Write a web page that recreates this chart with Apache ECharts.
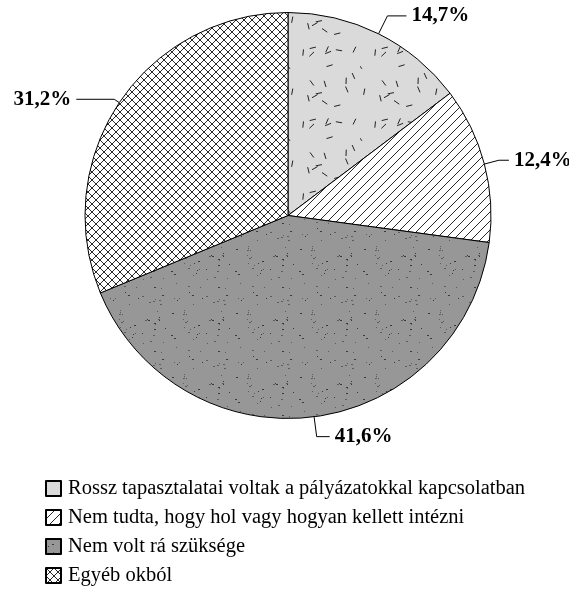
<!DOCTYPE html>
<html>
<head>
<meta charset="utf-8">
<script src="https://cdn.jsdelivr.net/npm/echarts@6/dist/echarts.min.js"></script>
<style>
  html, body { margin: 0; padding: 0; background: #fff; }
  #chart { width: 569px; height: 593px; }
</style>
</head>
<body>
<div id="chart"></div>
<script>
const categories = [
  'Rossz tapasztalatai voltak a pályázatokkal kapcsolatban',
  'Nem tudta, hogy hol vagy hogyan kellett intézni',
  'Nem volt rá szüksége',
  'Egyéb okból'
];
const values = [14.7, 12.4, 41.6, 31.2];
// leader line segments per slice: [radial, horizontal]
const leaderLens = [[20, 19], [15, 10], [20, 13], [6, 38]];

// small seeded generator, only for texture speckle
let seed = 7;
function rnd() {
  seed = (seed * 16807) % 2147483647;
  return (seed - 1) / 2147483646;
}

function tile(w, h, draw) {
  const c = document.createElement('canvas');
  c.width = w; c.height = h;
  draw(c.getContext('2d'), w, h);
  return { image: c, repeat: 'repeat' };
}

// light grey with scattered short dashes
const dashFill = tile(72, 72, (g, w, h) => {
  g.fillStyle = '#dadada';
  g.fillRect(0, 0, w, h);
  g.strokeStyle = '#222';
  g.lineWidth = 1;
  for (let i = 0; i < 20; i++) {
    const x = rnd() * w, y = rnd() * h;
    const a = rnd() * Math.PI;
    const l = 3.2;
    g.beginPath();
    g.moveTo(x - Math.cos(a) * l, y - Math.sin(a) * l);
    g.lineTo(x + Math.cos(a) * l, y + Math.sin(a) * l);
    g.stroke();
  }
});

// white with "/" hatching
const hatchFill = tile(9, 9, (g, w, h) => {
  g.fillStyle = '#fff';
  g.fillRect(0, 0, w, h);
  g.strokeStyle = '#111';
  g.lineWidth = 0.9;
  g.beginPath();
  g.moveTo(-1, h + 1); g.lineTo(w + 1, -1);
  g.moveTo(-1, 1); g.lineTo(1, -1);
  g.moveTo(w - 1, h + 1); g.lineTo(w + 1, h - 1);
  g.stroke();
});

// mid grey with small dark dots
const dotFill = tile(64, 64, (g, w, h) => {
  g.fillStyle = '#979797';
  g.fillRect(0, 0, w, h);
  for (let i = 0; i < 55; i++) {
    g.fillStyle = rnd() < 0.5 ? '#3a3a3a' : '#5c5c5c';
    g.fillRect(Math.floor(rnd() * w), Math.floor(rnd() * h), rnd() < 0.5 ? 2 : 1, 1);
  }
});

// white with cross hatching
const crossFill = tile(8, 8, (g, w, h) => {
  g.fillStyle = '#fff';
  g.fillRect(0, 0, w, h);
  g.strokeStyle = '#111';
  g.lineWidth = 0.9;
  g.beginPath();
  g.moveTo(-1, h + 1); g.lineTo(w + 1, -1);
  g.moveTo(-1, -1); g.lineTo(w + 1, h + 1);
  g.stroke();
});

const fills = [dashFill, hatchFill, dotFill, crossFill];

const chart = echarts.init(document.getElementById('chart'));
chart.setOption({
  animation: false,
  legend: {
    orient: 'vertical',
    left: 45,
    top: 478,
    padding: 0,
    itemWidth: 15,
    itemHeight: 15,
    itemGap: 8,
    icon: 'rect',
    textStyle: {
      fontFamily: 'Liberation Serif',
      fontSize: 20.5,
      lineHeight: 20,
      color: '#000',
      padding: [0, 0, 0, 2]
    },
    data: categories
  },
  series: [{
    type: 'pie',
    center: [288, 215.5],
    radius: 203,
    startAngle: 90,
    clockwise: true,
    emphasis: { disabled: true },
    itemStyle: { borderColor: '#000', borderWidth: 1 },
    label: {
      show: true,
      color: '#000',
      fontFamily: 'Liberation Serif',
      fontWeight: 'bold',
      fontSize: 21,
      overflow: 'none',
      distanceToLabelLine: 5,
      formatter: p => p.value.toFixed(1).replace('.', ',') + '%'
    },
    labelLine: {
      show: true,
      lineStyle: { color: '#000', width: 1 }
    },
    data: categories.map((name, i) => ({
      name: name,
      value: values[i],
      itemStyle: { color: fills[i] },
      labelLine: { length: leaderLens[i][0], length2: leaderLens[i][1] }
    }))
  }]
});
</script>
</body>
</html>
